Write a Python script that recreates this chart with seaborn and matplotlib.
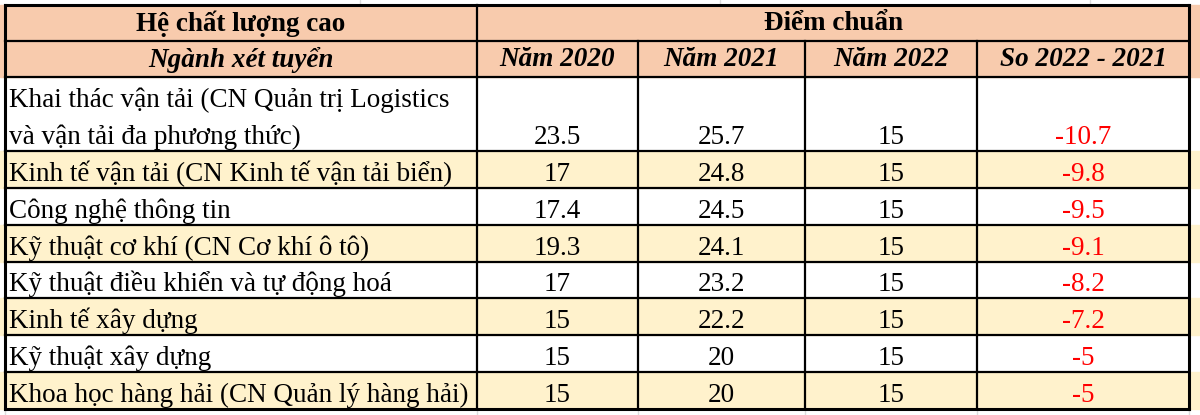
import matplotlib
matplotlib.use("Agg")
import matplotlib.pyplot as plt
from matplotlib.patches import Rectangle
import seaborn as sns

# ===== dữ liệu =====
header_top = ["Hệ chất lượng cao", "Điểm chuẩn"]
header_cols = ["Ngành xét tuyển", "Năm 2020", "Năm 2021", "Năm 2022", "So 2022 - 2021"]
nganh = [
    "Khai thác vận tải (CN Quản trị Logistics\nvà vận tải đa phương thức)",
    "Kinh tế vận tải (CN Kinh tế vận tải biển)",
    "Công nghệ thông tin",
    "Kỹ thuật cơ khí (CN Cơ khí ô tô)",
    "Kỹ thuật điều khiển và tự động hoá",
    "Kinh tế xây dựng",
    "Kỹ thuật xây dựng",
    "Khoa học hàng hải (CN Quản lý hàng hải)",
]
nam_2020 = [23.5, 17, 17.4, 19.3, 17, 15, 15, 15]
nam_2021 = [25.7, 24.8, 24.5, 24.1, 23.2, 22.2, 20, 20]
nam_2022 = [15, 15, 15, 15, 15, 15, 15, 15]
so_sanh = [-10.7, -9.8, -9.5, -9.1, -8.2, -7.2, -5, -5]

# ===== bố cục (pixel) =====
col_edges = [5, 477, 638, 805, 977, 1189]
head_h = 36
row_h = 36.9
top = 5
row_units = [2 if "\n" in n else 1 for n in nganh]

peach = "#F8CBAD"
yellow = "#FFF2CC"
red = "#FF0000"

sns.set_theme(style="white")
plt.rcParams["font.family"] = ["Liberation Serif", "DejaVu Serif"]
plt.rcParams["text.color"] = "black"
fs = 19.5

fig = plt.figure(figsize=(12, 4.15), dpi=100)
ax = fig.add_axes([0, 0, 1, 1])
ax.set_xlim(0, 1200)
ax.set_ylim(415, 0)
ax.axis("off")

# lưới mờ của bảng tính bên ngoài bảng
for x in [360, 720, 1090]:
    ax.plot([x, x], [0, top], color="#dddddd", lw=1)
for x in col_edges:
    ax.plot([x, x], [405, 415], color="#dddddd", lw=1)

# ----- header -----
y0 = top
for r in range(2):
    ax.add_patch(Rectangle((0, y0 + r * head_h), 1200, head_h, color=peach, zorder=0))
ax.text((col_edges[0] + col_edges[1]) / 2, y0 + head_h / 2 + 1, header_top[0],
        ha="center", va="center", fontsize=fs, fontweight="bold")
ax.text((col_edges[1] + col_edges[-1]) / 2, y0 + head_h / 2 + 1, header_top[1],
        ha="center", va="center", fontsize=fs, fontweight="bold")
for j, lab in enumerate(header_cols):
    ax.text((col_edges[j] + col_edges[j + 1]) / 2, y0 + head_h * 1.5 + 1, lab,
            ha="center", va="center", fontsize=fs, fontweight="bold", style="italic")

# ----- các dòng dữ liệu -----
y = top + 2 * head_h
row_edges = [top, top + head_h, y]
for i, ten in enumerate(nganh):
    h = row_h * row_units[i]
    if i % 2 == 1:
        ax.add_patch(Rectangle((0, y), 1200, h, color=yellow, zorder=0))
    base = y + h - 7
    lines = ten.split("\n")
    for k, line in enumerate(lines):
        ax.text(col_edges[0] + 4, base - (len(lines) - 1 - k) * row_h, line,
                ha="left", va="baseline", fontsize=fs)
    vals = [nam_2020[i], nam_2021[i], nam_2022[i], so_sanh[i]]
    for j, v in enumerate(vals):
        ax.text((col_edges[j + 1] + col_edges[j + 2]) / 2, base, f"{v:g}",
                ha="center", va="baseline", fontsize=fs,
                color=red if j == 3 else "black")
    y += h
    row_edges.append(y)

# ----- đường kẻ -----
bottom = row_edges[-1]
for k, ye in enumerate(row_edges):
    lw = 2.2 if k in (0, len(row_edges) - 1) else 1.6
    ax.plot([col_edges[0], col_edges[-1]], [ye, ye], color="black", lw=lw,
            solid_capstyle="projecting")
for k, xe in enumerate(col_edges):
    lw = 2.2 if k in (0, len(col_edges) - 1) else 1.6
    y_start = top if k in (0, 1, len(col_edges) - 1) else top + head_h
    ax.plot([xe, xe], [y_start, bottom], color="black", lw=lw,
            solid_capstyle="projecting")

fig.savefig("out.png", dpi=100)
